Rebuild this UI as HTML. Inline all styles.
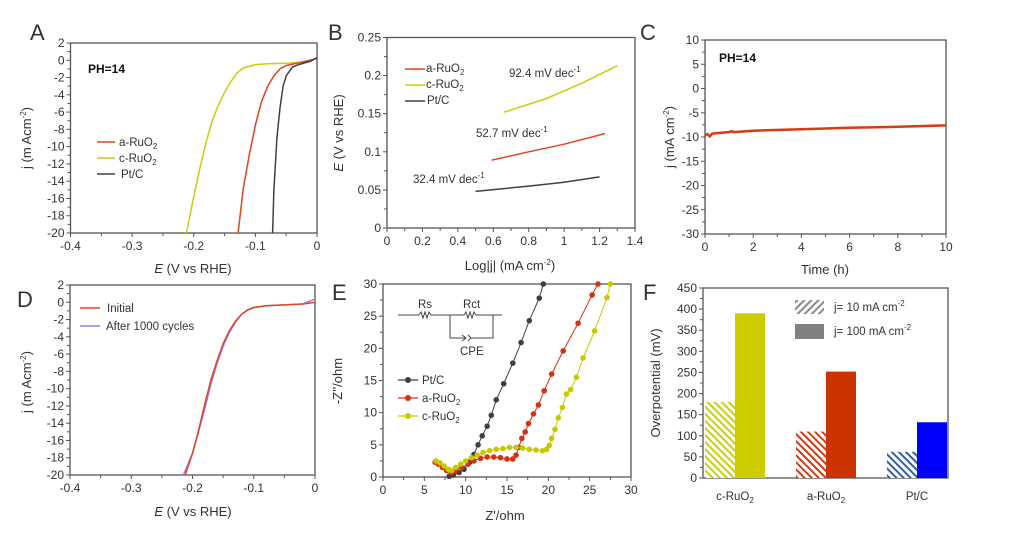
<!DOCTYPE html>
<html><head><meta charset="utf-8"><style>
html,body{margin:0;padding:0;background:#fff;}
svg{display:block;font-family:"Liberation Sans",sans-serif;}
text{fill:#333;}
</style></head><body>
<svg id="fig" width="1016" height="535" viewBox="0 0 1016 535" xmlns="http://www.w3.org/2000/svg">
<defs>
<pattern id="hy" width="5" height="5" patternUnits="userSpaceOnUse" patternTransform="rotate(-45)"><rect width="5" height="5" fill="#fff"/><rect width="2" height="5" fill="#cccc10"/></pattern>
<pattern id="ha" width="5" height="5" patternUnits="userSpaceOnUse" patternTransform="rotate(-45)"><rect width="5" height="5" fill="#fff"/><rect width="2" height="5" fill="#d83a14"/></pattern>
<pattern id="hb" width="5" height="5" patternUnits="userSpaceOnUse" patternTransform="rotate(-45)"><rect width="5" height="5" fill="#fff"/><rect width="2" height="5" fill="#2f5fa8"/></pattern>
<pattern id="hg" width="5" height="5" patternUnits="userSpaceOnUse" patternTransform="rotate(45)"><rect width="5" height="5" fill="#fff"/><rect width="2" height="5" fill="#888"/></pattern>
</defs>
<g font-size="22">
<text x="30" y="40">A</text>
<text x="328" y="40">B</text>
<text x="640" y="40">C</text>
<text x="17" y="307">D</text>
<text x="332" y="300">E</text>
<text x="643" y="300">F</text>
</g>
<g font-size="13">
<text x="193" y="273" text-anchor="middle"><tspan font-style="italic">E</tspan> (V vs RHE)</text>
<text transform="translate(31,138) rotate(-90)" text-anchor="middle">j (m Acm<tspan font-size="8" dy="-5">-2</tspan><tspan dy="5">)</tspan></text>
<text x="510" y="270" text-anchor="middle">Log|j| (mA cm<tspan font-size="8" dy="-5">-2</tspan><tspan dy="5">)</tspan></text>
<text transform="translate(343,133) rotate(-90)" text-anchor="middle"><tspan font-style="italic">E</tspan> (V vs RHE)</text>
<text x="825" y="274" text-anchor="middle">Time (h)</text>
<text transform="translate(674,137) rotate(-90)" text-anchor="middle">j (mA cm<tspan font-size="8" dy="-5">-2</tspan><tspan dy="5">)</tspan></text>
<text x="193" y="516" text-anchor="middle"><tspan font-style="italic">E</tspan> (V vs RHE)</text>
<text transform="translate(31,382) rotate(-90)" text-anchor="middle">j (m Acm<tspan font-size="8" dy="-5">-2</tspan><tspan dy="5">)</tspan></text>
<text x="505" y="520" text-anchor="middle">Z'/ohm</text>
<text transform="translate(342,381) rotate(-90)" text-anchor="middle">-Z''/ohm</text>
<text transform="translate(660,383) rotate(-90)" text-anchor="middle">Overpotential (mV)</text>
</g>
<g font-size="12" font-weight="bold">
<text x="88" y="73" style="fill:#111">PH=14</text>
<text x="719" y="62" style="fill:#111">PH=14</text>
</g>
<g font-size="11.5">
<line x1="97" y1="142" x2="115" y2="142" stroke="#e0461e" stroke-width="1.5"/>
<line x1="97" y1="158" x2="115" y2="158" stroke="#cccc10" stroke-width="1.5"/>
<line x1="97" y1="174" x2="115" y2="174" stroke="#404040" stroke-width="1.5"/>
<text x="119" y="146">a-RuO<tspan font-size="8" dy="3">2</tspan></text>
<text x="119" y="162">c-RuO<tspan font-size="8" dy="3">2</tspan></text>
<text x="121" y="178">Pt/C</text>
<line x1="405" y1="69" x2="425" y2="69" stroke="#e0461e" stroke-width="1.5"/>
<line x1="405" y1="85" x2="425" y2="85" stroke="#cccc10" stroke-width="1.5"/>
<line x1="405" y1="101" x2="425" y2="101" stroke="#404040" stroke-width="1.5"/>
<text x="426" y="72">a-RuO<tspan font-size="8" dy="3">2</tspan></text>
<text x="426" y="88">c-RuO<tspan font-size="8" dy="3">2</tspan></text>
<text x="427" y="104">Pt/C</text>
<text x="509" y="77">92.4 mV dec<tspan font-size="8" dy="-5">-1</tspan></text>
<text x="476" y="137">52.7 mV dec<tspan font-size="8" dy="-5">-1</tspan></text>
<text x="413" y="183">32.4 mV dec<tspan font-size="8" dy="-5">-1</tspan></text>
<line x1="80" y1="308" x2="100" y2="308" stroke="#e0461e" stroke-width="1.5"/>
<line x1="80" y1="326" x2="100" y2="326" stroke="#9b7cf0" stroke-width="1.5"/>
<text x="107" y="312">Initial</text>
<text x="106" y="330">After 1000 cycles</text>
<text x="422" y="384">Pt/C</text>
<text x="422" y="402">a-RuO<tspan font-size="8" dy="3">2</tspan></text>
<text x="422" y="420">c-RuO<tspan font-size="8" dy="3">2</tspan></text>
<g stroke="#444" stroke-width="1" fill="none">
<polyline points="398,315 419,315 421,312 423,318 425,312 427,318 429,312 431,315 450,315"/>
<polyline points="450,315 464,315 466,312 468,318 470,312 472,318 474,312 476,315 493,315 502,315"/>
<polyline points="450,315 450,338 466,338"/>
<polyline points="462,335 466,338 462,341"/>
<polyline points="468,335 471,338 468,341"/>
<polyline points="471,338 493,338 493,315"/>
</g>
<text x="418" y="308">Rs</text>
<text x="463" y="308">Rct</text>
<text x="460" y="355">CPE</text>
<rect x="795" y="300" width="29" height="14" fill="url(#hg)"/>
<rect x="795" y="324" width="29" height="15" fill="#808080"/>
<text x="834" y="311">j= 10 mA cm<tspan font-size="8" dy="-5">-2</tspan></text>
<text x="834" y="335">j= 100 mA cm<tspan font-size="8" dy="-5">-2</tspan></text>
</g>
<g id="plots"></g>
</svg>
<script>
// ---- data ----
const aCatE = [0,-0.02,-0.05,-0.08,-0.1,-0.12,-0.13,-0.14,-0.15,-0.16,-0.17,-0.18,-0.19,-0.2,-0.212];
const aCatJ = [0.2,-0.2,-0.35,-0.4,-0.5,-0.9,-1.5,-2.5,-3.7,-5.2,-7,-9.5,-12.5,-15.8,-20];
const aAruE = [0,-0.03,-0.05,-0.06,-0.07,-0.08,-0.09,-0.1,-0.11,-0.12,-0.128];
const aAruJ = [0.2,-0.3,-0.6,-1,-1.8,-3,-4.8,-7.5,-11,-15,-20];
const aPtE = [0,-0.01,-0.03,-0.04,-0.05,-0.055,-0.06,-0.065,-0.07,-0.072];
const aPtJ = [0.3,-0.1,-0.5,-0.8,-1.8,-3,-5.5,-9,-15,-20];
const bPtX = [0.5,0.8,1.0,1.2];
const bPtY = [0.048,0.055,0.06,0.067];
const bAruX = [0.59,0.8,1.0,1.15,1.23];
const bAruY = [0.089,0.1,0.11,0.119,0.124];
const bCruX = [0.66,0.9,1.1,1.3];
const bCruY = [0.152,0.17,0.19,0.213];
const cTime = [0,0.1,0.2,0.3,0.5,1,1.1,1.2,2,4,6,8,10];
const cJ = [-9.6,-9.4,-9.9,-9.3,-9.2,-9,-8.8,-9,-8.7,-8.4,-8.1,-7.9,-7.6];
const dInitE = [0.001,-0.02,-0.05,-0.08,-0.1,-0.11,-0.12,-0.13,-0.14,-0.15,-0.16,-0.17,-0.18,-0.19,-0.2,-0.212];
const dInitJ = [0,-0.2,-0.3,-0.4,-0.6,-0.9,-1.4,-2.2,-3.3,-4.8,-6.8,-9,-11.8,-14.8,-17.5,-20];
const dAftE = [0.001,-0.02,-0.05,-0.08,-0.1,-0.11,-0.12,-0.13,-0.14,-0.15,-0.16,-0.17,-0.18,-0.19,-0.2,-0.215];
const dAftJ = [0.4,-0.2,-0.3,-0.4,-0.6,-0.9,-1.4,-2.3,-3.5,-5.1,-7.1,-9.5,-12.3,-15,-17.5,-20];
const ePtX = [8,8.5,9.2,9.8,10.5,11,11.5,12,12.6,13.1,13.7,14.6,15.7,16.7,17.7,18.9,19.4];
const ePtY = [0.1,0.3,0.7,1.2,2.3,3.5,5,6.4,7.9,9.6,12,14.5,17.7,20.9,24.3,27.8,30];
const eAruX = [6.3,6.7,7.2,7.7,8.3,8.8,9.5,10.3,11,11.8,12.6,13.4,14.2,15,15.7,16.1,16.4,16.8,17.2,17.6,18.2,18.8,19.5,20.4,21.8,23.6,25.3,26];
const eAruY = [2.3,2,1.5,1,0.7,1,1.5,2,2.5,2.9,3.1,3.1,3,2.8,2.8,3.4,4.6,6,7,8.3,9.8,11.2,13.4,16,19.6,23.9,28.3,30];
const eCruX = [6.4,6.9,7.4,7.9,8.3,8.8,9.4,10,10.7,11.4,12.1,12.9,13.7,14.5,15.3,16.1,16.9,17.7,18.5,19.3,19.8,20.1,20.4,20.8,21.2,21.7,22.2,22.7,23.4,24.2,25.6,27.1,27.5];
const eCruY = [2.5,2.2,1.7,1.2,1,1.5,2,2.5,3,3.4,3.8,4.1,4.3,4.4,4.6,4.6,4.5,4.3,4.2,4.1,4.3,4.9,6,7.4,9.2,10.8,12.9,13.6,15.5,18.5,22.7,27.9,30];
const fCats = ['c-RuO', 'a-RuO', 'Pt/C'];
const fJ10 = [180,110,62];
const fJ100 = [390,252,132];

// ---- drawing ----
const NS='http://www.w3.org/2000/svg';
const root=document.getElementById('plots');
function el(tag,attrs){const e=document.createElementNS(NS,tag);for(const k in attrs)e.setAttribute(k,attrs[k]);root.appendChild(e);return e;}
function lin(d0,d1,r0,r1){return v=>r0+(v-d0)/(d1-d0)*(r1-r0);}
function fmt(v){const r=parseFloat(v.toFixed(4));return String(Math.abs(r)<1e-9?0:r);}
function axes(p,pre){
  const x0=p.xr[0],x1=p.xr[1],yb=p.yr[0],yt=p.yr[1];
  const box=el('rect',{x:x0,y:yt,width:x1-x0,height:yb-yt,fill:'none',stroke:'#555','stroke-width':1.3});
  
  
  if(p.xd){
    const X=lin(p.xd[0],p.xd[1],x0,x1);
    const nx=Math.round((p.xd[1]-p.xd[0])/p.xs*2);
    for(let i=0;i<=nx;i++){
      const v=p.xd[0]+i*p.xs/2,px=X(v),maj=i%2===0;
      const t=el('line',{x1:px,x2:px,y1:yb,y2:yb+(maj?4:3),stroke:'#555','stroke-width':1});
      
      
      if(maj){
        const tx=el('text',{x:px,y:yb+17,'text-anchor':'middle','font-size':12});
        tx.textContent=fmt(v);
        
        
      }
    }
  }
  const Y=lin(p.yd[0],p.yd[1],yb,yt);
  const n=Math.round((p.yd[1]-p.yd[0])/p.ys);
  for(let i=0;i<=n*2;i++){
    const v=p.yd[0]+i*p.ys/2,py=Y(v),maj=i%2===0;
    const t=el('line',{x1:x0-(maj?4:3),x2:x0,y1:py,y2:py,stroke:'#555','stroke-width':1});
    
    
    if(maj){
      const ty=el('text',{x:x0-6,y:py+4,'text-anchor':'end','font-size':12});
      ty.textContent=fmt(v);
      
      
    }
  }
}
function line(xs,ys,X,Y,color,w,name){
  const pts=xs.map((v,i)=>X(v).toFixed(1)+','+Y(ys[i]).toFixed(1)).join(' ');
  const l=el('polyline',{points:pts,fill:'none',stroke:color,'stroke-width':w,'stroke-linejoin':'round'});
  
  
}
function dots(xs,ys,X,Y,color,name){
  xs.forEach((v,i)=>{
    const c=el('circle',{cx:X(v),cy:Y(ys[i]),r:2.8,fill:color});
    
    
  });
}
// A
let P={xd:[-0.4,0],xs:0.1,xr:[70.5,317],yd:[-20,2],ys:2,yr:[233,43]};
axes(P,'a');
let X=lin(-0.4,0,70.5,317),Y=lin(-20,2,233,43);
line(aCatE,aCatJ,X,Y,'#cccc10',1.5,'a-line-c-ruo2');
line(aAruE,aAruJ,X,Y,'#e0461e',1.5,'a-line-a-ruo2');
line(aPtE,aPtJ,X,Y,'#404040',1.5,'a-line-pt-c');
// B
P={xd:[0,1.4],xs:0.2,xr:[387,635],yd:[0,0.25],ys:0.05,yr:[228,37.5]};
axes(P,'b');
X=lin(0,1.4,387,635);Y=lin(0,0.25,228,37.5);
line(bPtX,bPtY,X,Y,'#404040',1.5,'b-line-pt-c');
line(bAruX,bAruY,X,Y,'#e0461e',1.5,'b-line-a-ruo2');
line(bCruX,bCruY,X,Y,'#cccc10',1.5,'b-line-c-ruo2');
// C
P={xd:[0,10],xs:2,xr:[705,946],yd:[-30,10],ys:5,yr:[234,40]};
axes(P,'c');
X=lin(0,10,705,946);Y=lin(-30,10,234,40);
line(cTime,cJ,X,Y,'#d83a14',2.5,'c-line-stability');
// D
P={xd:[-0.4,0],xs:0.1,xr:[70,315],yd:[-20,2],ys:2,yr:[475,285]};
axes(P,'d');
X=lin(-0.4,0,70,315);Y=lin(-20,2,475,285);
line(dAftE,dAftJ,X,Y,'#9b7cf0',1.5,'d-line-after-1000');
line(dInitE,dInitJ,X,Y,'#e0461e',1.5,'d-line-initial');
// E
P={xd:[0,30],xs:5,xr:[383,631],yd:[0,30],ys:5,yr:[477,284]};
axes(P,'e');
X=lin(0,30,383,631);Y=lin(0,30,477,284);
line(ePtX,ePtY,X,Y,'#404040',1,'e-line-pt-c');dots(ePtX,ePtY,X,Y,'#404040','e-point-pt-c');
line(eAruX,eAruY,X,Y,'#d93010',1,'e-line-a-ruo2');dots(eAruX,eAruY,X,Y,'#d93010','e-point-a-ruo2');
line(eCruX,eCruY,X,Y,'#c8c800',1,'e-line-c-ruo2');dots(eCruX,eCruY,X,Y,'#c8c800','e-point-c-ruo2');
[['#404040',380,'pt-c'],['#d93010',398,'a-ruo2'],['#c8c800',416,'c-ruo2']].forEach(a=>{
  const l=el('line',{x1:398,x2:418,y1:a[1],y2:a[1],stroke:a[0],'stroke-width':1.2});
  
  
  const c=el('circle',{cx:408,cy:a[1],r:3,fill:a[0]});
  
  
});
// F
P={xr:[703,948],yd:[0,450],ys:50,yr:[478,288]};
axes(P,'f');
Y=lin(0,450,478,288);
const fFill10=['url(#hy)','url(#ha)','url(#hb)'],fFill100=['#cccc00','#cc3300','#0000ff'];
fCats.forEach((c,i)=>{
  const cx=735+91*i;
  const b1=el('rect',{x:cx-30,y:Y(fJ10[i]),width:30,height:Y(0)-Y(fJ10[i]),fill:fFill10[i]});
  
  
  const b2=el('rect',{x:cx,y:Y(fJ100[i]),width:30,height:Y(0)-Y(fJ100[i]),fill:fFill100[i]});
  
  
  const t=el('text',{x:cx,y:500,'text-anchor':'middle','font-size':11.5});
  t.textContent=c;
  if(c!=='Pt/C'){const s=document.createElementNS(NS,'tspan');s.setAttribute('font-size','8');s.setAttribute('dy','3');s.textContent='2';t.appendChild(s);}
  
  
});
</script>
</body></html>
